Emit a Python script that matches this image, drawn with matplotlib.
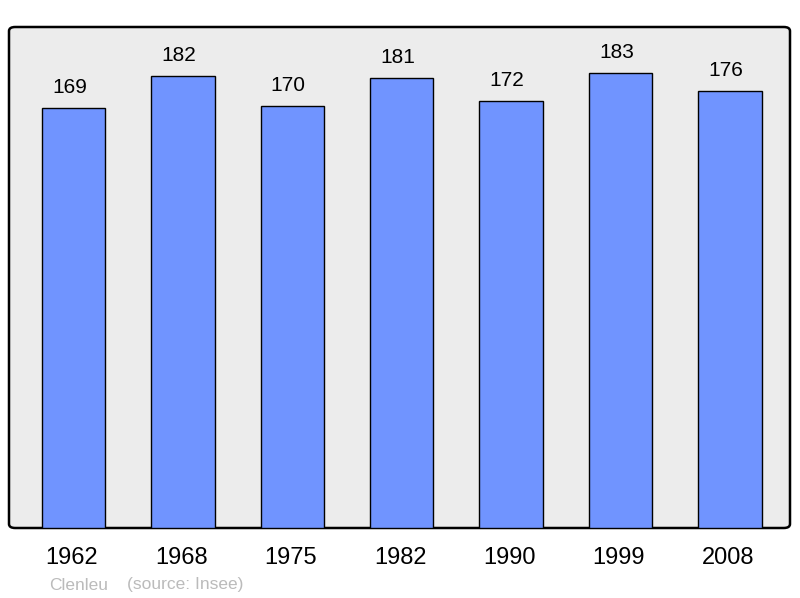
import matplotlib
matplotlib.use("Agg")
import matplotlib.pyplot as plt
from matplotlib.patches import FancyBboxPatch

plt.rcParams['font.family'] = ['Liberation Sans', 'DejaVu Sans']

years = ['1962', '1968', '1975', '1982', '1990', '1999', '2008']
population = [169, 182, 170, 181, 172, 183, 176]
town = 'Clenleu'
source = '(source: Insee)'

fig = plt.figure(figsize=(8, 5.98), dpi=100)
ax = fig.add_axes([9 / 800, 70 / 598, 781 / 800, 501 / 598])
ax.set_facecolor('none')

# frame with rounded corners
frame = FancyBboxPatch((0, 0), 1, 1, boxstyle='round,pad=0,rounding_size=0.008',
                       transform=ax.transAxes, facecolor='#ececec', edgecolor='black',
                       linewidth=1.8, zorder=0, clip_on=False)
ax.add_patch(frame)

x = range(len(years))
bars = ax.bar(x, population, width=0.58, color='#7094ff', edgecolor='black',
              linewidth=1.0, zorder=2)
for xi, v in zip(x, population):
    ax.text(xi - 0.037, v + 8.2, str(v), ha='center', va='center', fontsize=15, zorder=3)

ax.set_xlim(-0.59, 6.55)
ax.set_ylim(0, 201.6)
for s in ax.spines.values():
    s.set_visible(False)
ax.set_yticks([])
ax.set_xticks([xi - 0.015 for xi in x])
ax.set_xticklabels(years, fontsize=17)
ax.tick_params(axis='x', length=0, pad=14)

fig.text(49 / 800, 1 - 585 / 598, town, fontsize=12.5, color='#bbbbbb', va='center')
fig.text(127 / 800, 1 - 585 / 598, source, fontsize=12.5, color='#bbbbbb', va='center')

fig.savefig('out.png', dpi=100)
